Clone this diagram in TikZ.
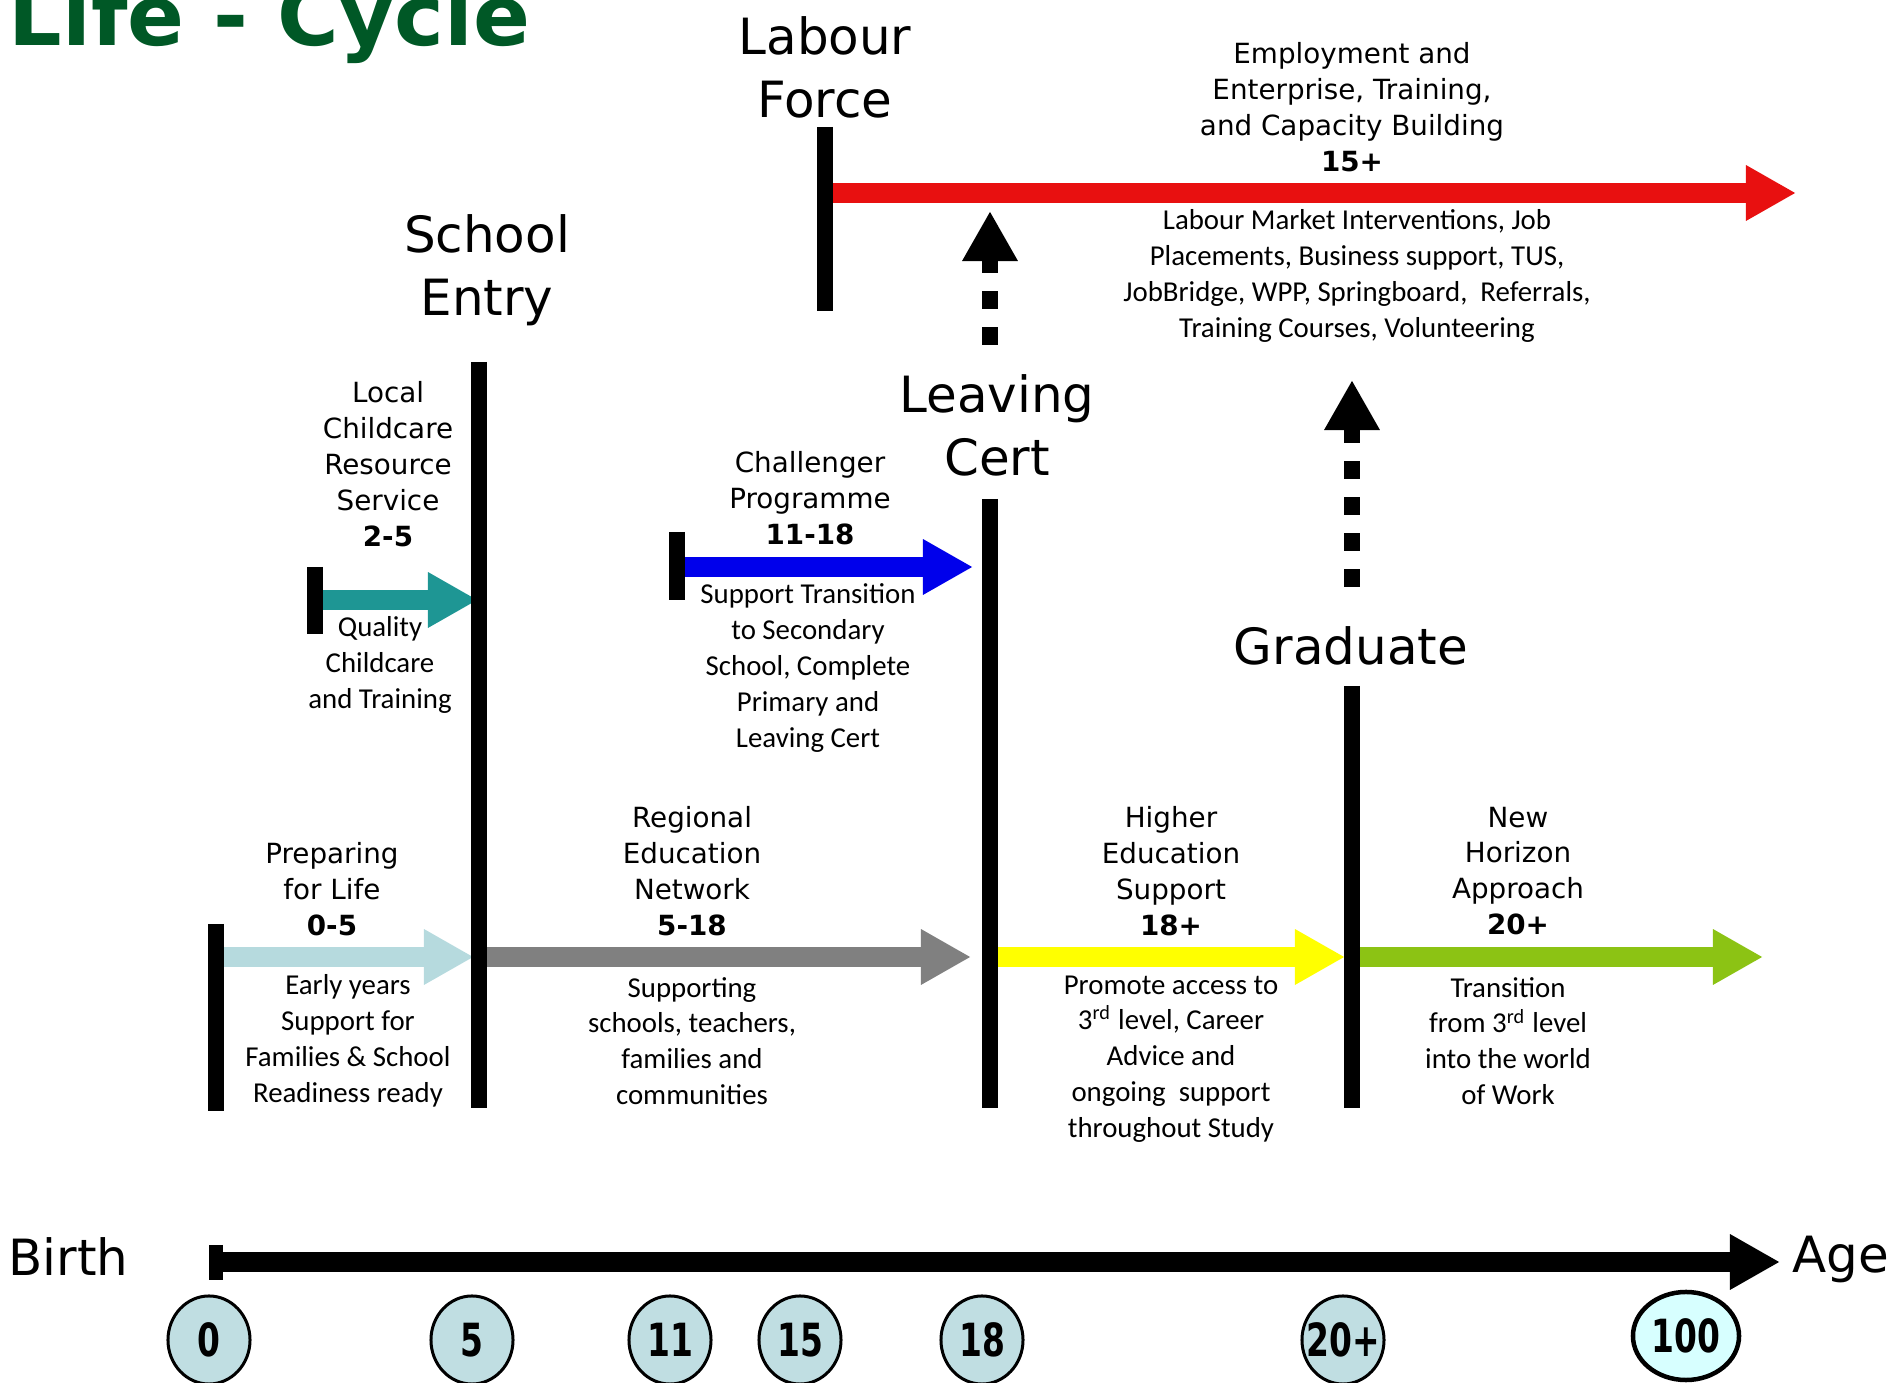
\documentclass[tikz,border=0pt]{standalone}
\usepackage{fontspec}
\usepackage{tikz}
\usetikzlibrary{arrows.meta,shapes.geometric}
\newfontfamily\dejavu{DejaVu Sans}
\newfontfamily\carlito{Carlito}
\newfontfamily\ticknum[FakeStretch=0.72]{DejaVu Sans}
\newcommand{\agenum}[1]{\makebox[0pt][c]{#1}}
\definecolor{titlegreen}{RGB}{0,88,38}
\definecolor{redband}{RGB}{232,16,16}
\definecolor{tealband}{RGB}{30,150,148}
\definecolor{blueband}{RGB}{0,0,235}
\definecolor{paleband}{RGB}{182,218,222}
\definecolor{greyband}{RGB}{128,128,128}
\definecolor{yellowband}{RGB}{255,255,0}
\definecolor{greenband}{RGB}{140,195,20}
\definecolor{tickfill}{RGB}{192,222,226}
\definecolor{lastfill}{RGB}{215,255,255}
\tikzset{
  bar/.style={line width=0.16cm},
  band/.style={line width=0.2cm, -{Triangle[length=0.5cm,width=0.52cm]}},
  dashup/.style={line width=0.16cm, dash pattern=on 0.18cm off 0.18cm, -{Triangle[length=0.5cm,width=0.52cm]}},
  bigtext/.style={font=\dejavu\fontsize{14.2}{17.9}\selectfont, align=center, inner sep=0},
  headtext/.style={font=\dejavu\fontsize{7.9}{10.2}\selectfont, align=center, inner sep=0},
  desctext/.style={font=\carlito\fontsize{8.2}{10.2}\selectfont, align=center, inner sep=0},
  agemark/.style={ellipse, draw, line width=0.03cm, fill=tickfill, minimum width=0.82cm, minimum height=0.88cm, inner sep=0, font=\ticknum\bfseries\fontsize{13}{13}\selectfont}
}

\begin{document}
\begin{tikzpicture}[x=0.01cm, y=-0.01cm]
\useasboundingbox (0,0) rectangle (1893,1383);
\node [anchor=base west, inner sep=0, text=titlegreen, font=\dejavu\bfseries\fontsize{23.9}{28}\selectfont] (title) at (8,46) {Life - Cycle};

\coordinate (lfTop) at (825,127);
\coordinate (lfBot) at (825,311);
\coordinate (seTop) at (479,362);
\coordinate (seBot) at (479,1108);
\coordinate (lcTop) at (990,499);
\coordinate (lcBot) at (990,1108);
\coordinate (grTop) at (1352,686);
\coordinate (grBot) at (1352,1108);
\coordinate (pfTop) at (216,924);
\coordinate (pfBot) at (216,1111);
\coordinate (chTop) at (315,567);
\coordinate (chBot) at (315,634);
\coordinate (cpTop) at (677,532);
\coordinate (cpBot) at (677,600);
\coordinate (axTop) at (216,1245);
\coordinate (axBot) at (216,1280);

\coordinate (redEnd) at (1796,193);
\coordinate (greenEnd) at (1763,957);
\coordinate (axEnd) at (1780,1262);
\coordinate (lcUp) at (990,211);
\coordinate (lcFoot) at (990,345);
\coordinate (grUp) at (1352,380);
\coordinate (grFoot) at (1352,587);

\draw [band, redband] (lfTop |- redEnd) -- (redEnd);
\draw [band, tealband] (chTop |- 0,600) -- (478,600);
\draw [band, blueband] (cpTop |- 0,567) -- (973,567);
\draw [band, paleband] (pfTop |- greenEnd) -- (474,957);
\draw [band, greyband] (seTop |- greenEnd) -- (971,957);
\draw [band, yellowband] (lcTop |- greenEnd) -- (1345,957);
\draw [band, greenband] (grTop |- greenEnd) -- (greenEnd);
\draw [dashup] (lcFoot) -- (lcUp);
\draw [dashup] (grFoot) -- (grUp);

\draw [bar] (lfTop) -- (lfBot);
\draw [bar] (seTop) -- (seBot);
\draw [bar] (lcTop) -- (lcBot);
\draw [bar] (grTop) -- (grBot);
\draw [bar] (pfTop) -- (pfBot);
\draw [bar] (chTop) -- (chBot);
\draw [bar] (cpTop) -- (cpBot);

\draw [band, line width=0.2cm] (axTop |- axEnd) -- (axEnd);
\draw [line width=0.13cm] (axTop) -- (axBot);

\node [bigtext] (labour) at (825,67) {Labour\\Force};
\node [bigtext] (school) at (487,270) {School\\Entry};
\node [bigtext] (leaving) at (997,425) {Leaving\\Cert};
\node [bigtext] (graduate) at (1351,646) {Graduate};
\node [bigtext, anchor=west] (birth) at (8,1257) {Birth};
\node [bigtext, anchor=west] (age) at (1792,1259) {Age};

\node [headtext] (employ) at (1352,107) {Employment and\\Enterprise, Training,\\and Capacity Building\\\textbf{15+}};
\node [desctext] (market) at (1357,276) {Labour Market Interventions, Job\\Placements, Business support, TUS,\\JobBridge, WPP, Springboard,\ \ Referrals,\\Training Courses, Volunteering};
\node [headtext] (local) at (388,464) {Local\\Childcare\\Resource\\Service\\\textbf{2-5}};
\node [desctext] (quality) at (380,665) {Quality\\Childcare\\and Training};
\node [headtext] (challenger) at (810,498) {Challenger\\Programme\\\textbf{11-18}};
\node [desctext] (transition) at (808,668) {Support Transition\\to Secondary\\School, Complete\\Primary and\\Leaving Cert};
\node [headtext] (preparing) at (332,889) {Preparing\\for Life\\\textbf{0-5}};
\node [desctext] (early) at (348,1041) {Early years\\Support for\\Families \& School\\Readiness ready};
\node [headtext] (regional) at (692,871) {Regional\\Education\\Network\\\textbf{5-18}};
\node [desctext] (supporting) at (692,1041) {Supporting\\schools, teachers,\\families and\\communities};
\node [headtext] (higher) at (1171,871) {Higher\\Education\\Support\\\textbf{18+}};
\node [desctext] (promote) at (1171,1059) {Promote access to\\3\textsuperscript{rd} level, Career\\Advice and\\ongoing\ \ support\\throughout Study};
\node [headtext] (horizon) at (1518,871) {New\\Horizon\\Approach\\\textbf{20+}};
\node [desctext] (work) at (1508,1041) {Transition\\from 3\textsuperscript{rd} level\\into the world\\of Work};

\node [agemark] (a0) at (209,1340) {\agenum{0}};
\node [agemark] (a5) at (472,1340) {\agenum{5}};
\node [agemark] (a11) at (670,1340) {\agenum{11}};
\node [agemark] (a15) at (800,1340) {\agenum{15}};
\node [agemark] (a18) at (982,1340) {\agenum{18}};
\node [agemark] (a20) at (1343,1340) {\agenum{20+}};
\node [agemark, fill=lastfill, line width=0.045cm, minimum width=1.06cm] (a100) at (1686,1336) {\agenum{100}};
\end{tikzpicture}
\end{document}
